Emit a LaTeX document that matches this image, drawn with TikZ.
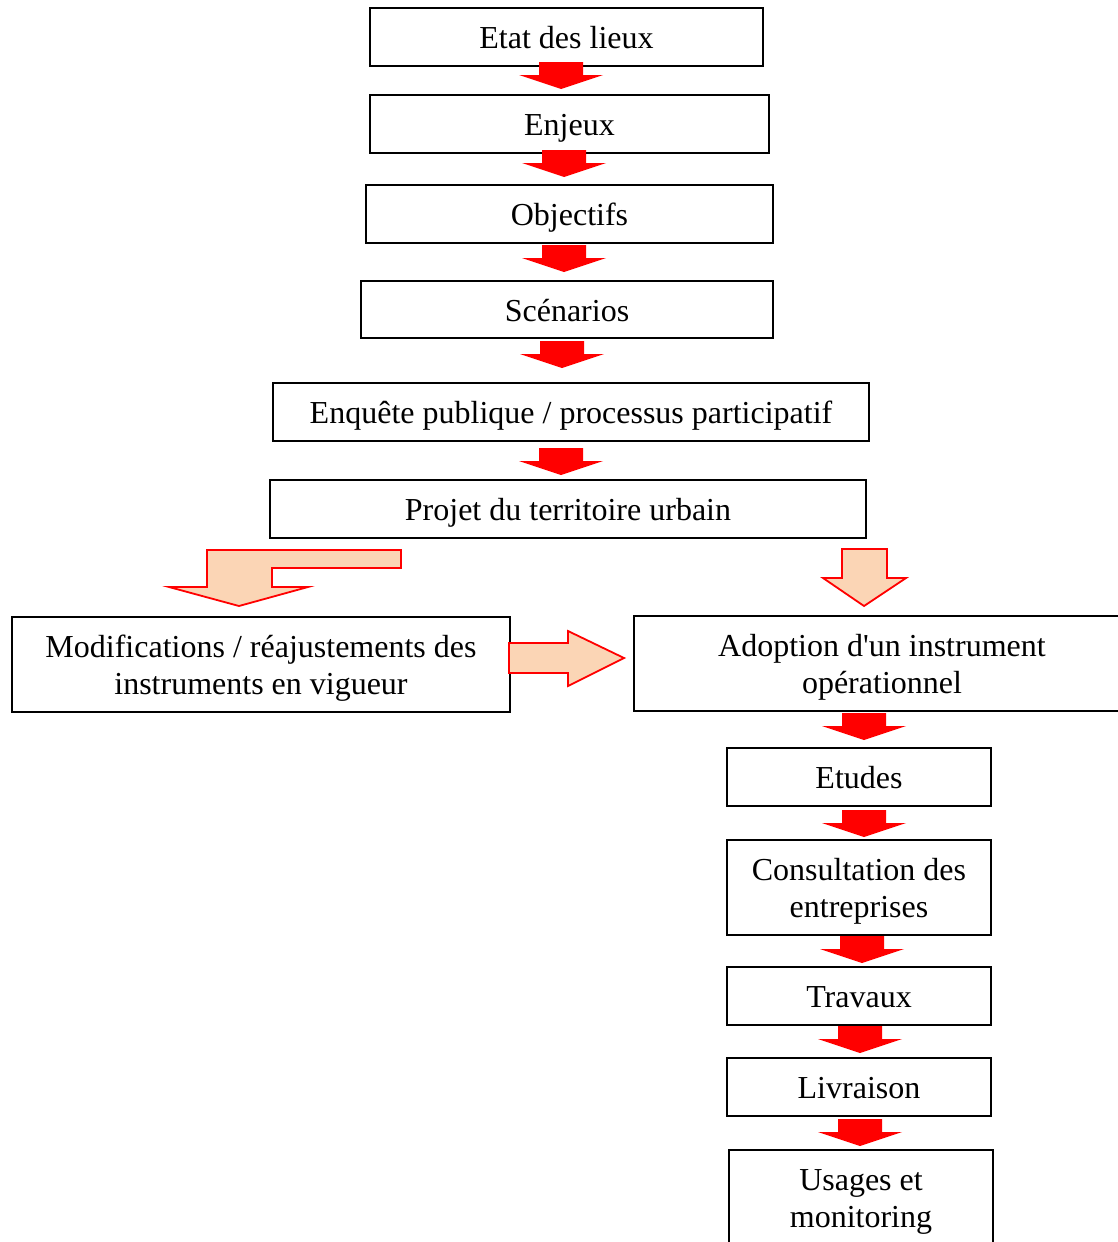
\documentclass[tikz,border=0pt]{standalone}
\usepackage{fontspec}
\setmainfont{Liberation Serif}[Ligatures=TeXOff]
% box text, set 4pt lower than its own extent so the frame keeps its place
\newcommand\lowered[1]{\raisebox{-4pt}[\height][\depth]{\begin{tabular}{@{}c@{}}#1\end{tabular}}}
\begin{document}
\begin{tikzpicture}[x=1pt,y=-1pt,
  box/.style={draw=black,line width=1.6pt,fill=white,align=center,inner sep=0pt,
    font=\fontsize{32}{37.5}\selectfont},
  hollow/.style={fill=peach,draw=red,line width=1.8pt,line join=miter}]
\definecolor{peach}{HTML}{FBD5B5}
\useasboundingbox (0,0) rectangle (1118,1242);

% main chain
\node[box,minimum width=393,minimum height=58] (etat) at (566.5,37) {\lowered{Etat des lieux}};
\node[box,minimum width=399,minimum height=58] (enjeux) at (569.5,124) {\lowered{Enjeux}};
\node[box,minimum width=407,minimum height=58] (obj) at (569.5,214) {\lowered{Objectifs}};
\node[box,minimum width=412,minimum height=57] (scen) at (567,309.5) {\lowered{Scénarios}};
\node[box,minimum width=596,minimum height=58] (enq) at (571,412) {\lowered{Enquête publique / processus participatif}};
\node[box,minimum width=596,minimum height=58] (projet) at (568,509) {\lowered{Projet du territoire urbain}};

% two branches
\node[box,minimum width=498,minimum height=95] (modif) at (261,664.5) {\lowered{Modifications / réajustements des\\instruments en vigueur}};
\node[box,minimum width=496,minimum height=95] (adopt) at (882,663.5) {\lowered{Adoption d'un instrument\\opérationnel}};

% operational chain
\node[box,minimum width=264,minimum height=58] (etudes) at (859,777) {\lowered{Etudes}};
\node[box,minimum width=264,minimum height=95] (consult) at (859,887.5) {\lowered{Consultation des\\entreprises}};
\node[box,minimum width=264,minimum height=58] (trav) at (859,996) {\lowered{Travaux}};
\node[box,minimum width=264,minimum height=58] (livr) at (859,1087) {\lowered{Livraison}};
\node[box,minimum width=264,minimum height=95] (usages) at (861,1197.5) {\lowered{Usages et\\monitoring}};

% red block arrows: centre x, top of shaft
\newcommand\blockdown[2]{%
  \fill[red] (#1-22,#2) -- (#1+22,#2) -- (#1+22,#2+13) -- (#1+42,#2+13)
    -- (#1,#2+27) -- (#1-42,#2+13) -- (#1-22,#2+13) -- cycle;}
\blockdown{561}{62}
\blockdown{564}{150}
\blockdown{564}{245}
\blockdown{562}{341}
\blockdown{561}{448}
\blockdown{864}{713}
\blockdown{864}{810}
\blockdown{862}{936}
\blockdown{860}{1026}
\blockdown{860}{1119}

% hollow arrows towards the two branches
\draw[hollow] (401,550) -- (207,550) -- (207,587) -- (169,587) -- (239,606)
  -- (308,587) -- (272,587) -- (272,568) -- (401,568) -- cycle;
\draw[hollow] (842,549) -- (887,549) -- (887,578) -- (906,578) -- (864,606)
  -- (823,578) -- (842,578) -- cycle;
\draw[hollow] (509,643) -- (568,643) -- (568,631) -- (624,658) -- (568,686)
  -- (568,673) -- (509,673) -- cycle;
\end{tikzpicture}
\end{document}
